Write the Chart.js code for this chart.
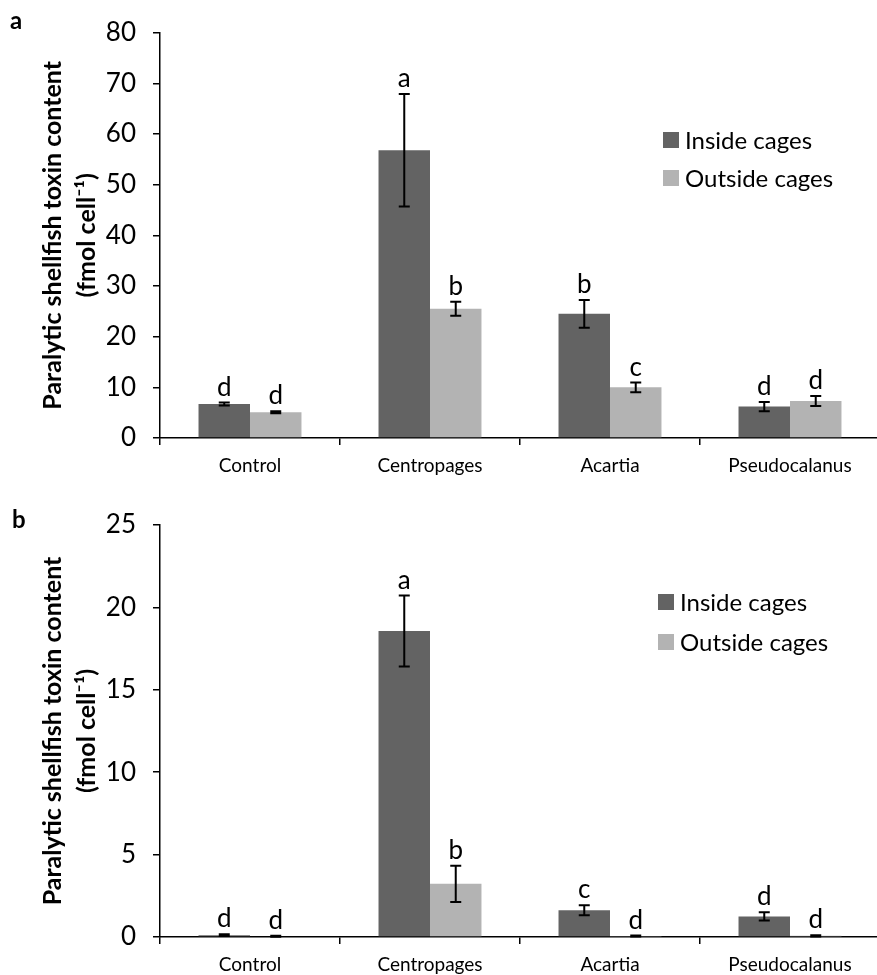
<!DOCTYPE html>
<html>
<head>
<meta charset="utf-8">
<script src="https://cdn.jsdelivr.net/npm/chart.js@4.4.1/dist/chart.umd.min.js"></script>
<style>
    body { margin: 0; background: #fff; overflow: hidden; }
    #wrap { position: relative; width: 877px; height: 975px; overflow: hidden; }
    canvas { position: absolute; left: 0; }
    #chartA { top: 0; }
    #chartB { top: 480px; }
</style>
</head>
<body>
<div id="wrap">
    <canvas id="chartA" width="900" height="480"></canvas>
    <canvas id="chartB" width="900" height="495"></canvas>
</div>
<script>
// Categorias del eje X
const categorias = ["Control", "Centropages", "Acartia", "Pseudocalanus"];
const nombresSeries = ["Inside cages", "Outside cages"];

// Panel a: medias, errores y letras de significancia
const dentroA = [6.7, 56.8, 24.5, 6.2];
const dentroAErr = [0.3, 11.1, 2.75, 0.9];
const fueraA = [5.1, 25.5, 10.0, 7.3];
const fueraAErr = [0.2, 1.4, 0.95, 1.0];
const letrasDentroA = ["d", "a", "b", "d"];
const letrasFueraA = ["d", "b", "c", "d"];
const ticksA = [0, 10, 20, 30, 40, 50, 60, 70, 80];

// Panel b
const dentroB = [0.11, 18.57, 1.62, 1.25];
const dentroBErr = [0.05, 2.15, 0.3, 0.25];
const fueraB = [0.05, 3.23, 0.06, 0.07];
const fueraBErr = [0.03, 1.1, 0.03, 0.04];
const letrasDentroB = ["d", "a", "c", "d"];
const letrasFueraB = ["d", "b", "d", "d"];
const ticksB = [0, 5, 10, 15, 20, 25];

const colorDentro = "#636363";
const colorFuera = "#b3b3b3";
const fuente = "Lato";

Chart.defaults.font.family = fuente;
Chart.defaults.color = "#000";

// Plugin: barras de error y letras encima de cada barra
const errorBarsPlugin = {
    id: "errorBars",
    afterDatasetsDraw(chart) {
        const ctx = chart.ctx;
        const yScale = chart.scales.y;
        ctx.save();
        ctx.strokeStyle = "#000";
        ctx.lineWidth = 2;
        ctx.fillStyle = "#000";
        ctx.font = "26px " + fuente;
        ctx.textAlign = "center";
        ctx.textBaseline = "alphabetic";
        chart.data.datasets.forEach((ds, i) => {
            const meta = chart.getDatasetMeta(i);
            meta.data.forEach((bar, j) => {
                const v = ds.data[j];
                const e = ds.errores[j];
                const yTop = yScale.getPixelForValue(v + e);
                const yBot = yScale.getPixelForValue(Math.max(v - e, 0));
                ctx.beginPath();
                ctx.moveTo(bar.x, yTop);
                ctx.lineTo(bar.x, yBot);
                ctx.moveTo(bar.x - 5.5, yTop);
                ctx.lineTo(bar.x + 5.5, yTop);
                ctx.moveTo(bar.x - 5.5, yBot);
                ctx.lineTo(bar.x + 5.5, yBot);
                ctx.stroke();
                ctx.fillText(ds.letras[j], bar.x, yTop - 7);
            });
        });
        ctx.restore();
    },
};

// Plugin: leyenda dentro del area y letra del panel
const leyendaPlugin = {
    id: "leyendaPanel",
    afterDraw(chart, args, opts) {
        const ctx = chart.ctx;
        ctx.save();
        ctx.font = "bold 24px " + fuente;
        ctx.fillStyle = "#000";
        ctx.textAlign = "left";
        ctx.textBaseline = "alphabetic";
        ctx.fillText(opts.letra, opts.letraX, opts.letraY);

        ctx.font = "24px " + fuente;
        ctx.textBaseline = "middle";
        chart.data.datasets.forEach((ds, i) => {
            const y = opts.y + i * opts.gap;
            ctx.fillStyle = ds.backgroundColor;
            ctx.fillRect(opts.x, y - 8, 16, 16);
            ctx.fillStyle = "#000";
            ctx.fillText(ds.label, opts.x + 22, y + 1);
        });
        ctx.restore();
    },
};

function crearGrafico(id, dentro, dentroErr, letrasDentro, fuera, fueraErr, letrasFuera, ticks, cfg) {
    return new Chart(document.getElementById(id), {
        type: "bar",
        data: {
            labels: categorias,
            datasets: [
                {
                    label: nombresSeries[0],
                    data: dentro,
                    errores: dentroErr,
                    letras: letrasDentro,
                    backgroundColor: colorDentro,
                    categoryPercentage: 0.572,
                    barPercentage: 1.0,
                },
                {
                    label: nombresSeries[1],
                    data: fuera,
                    errores: fueraErr,
                    letras: letrasFuera,
                    backgroundColor: colorFuera,
                    categoryPercentage: 0.572,
                    barPercentage: 1.0,
                },
            ],
        },
        options: {
            responsive: false,
            animation: false,
            devicePixelRatio: 1,
            layout: {
                padding: { top: cfg.top, right: 20, left: 0, bottom: 0 },
            },
            scales: {
                x: {
                    grid: {
                        offset: true,
                        drawOnChartArea: false,
                        color: "#000",
                        lineWidth: 1.5,
                        tickLength: 7,
                    },
                    border: { color: "#000", width: 1.5 },
                    ticks: { font: { size: 19 }, color: "#000", padding: 9 },
                    afterFit: (scale) => { scale.height = cfg.alturaX; },
                },
                y: {
                    min: ticks[0],
                    max: ticks[ticks.length - 1],
                    afterBuildTicks: (scale) => {
                        scale.ticks = ticks.map((v) => ({ value: v }));
                    },
                    grid: {
                        drawOnChartArea: false,
                        color: "#000",
                        lineWidth: 1.5,
                        tickLength: 7,
                    },
                    border: { color: "#000", width: 1.5 },
                    ticks: { font: { size: 26 }, color: "#000", padding: 17 },
                    title: {
                        display: true,
                        text: ["Paralytic shellfish toxin content", "(fmol cell\u207B\u00B9)"],
                        font: { size: 25, weight: "bold", lineHeight: "34px" },
                        color: "#000",
                        padding: { top: 36, bottom: 0 },
                    },
                    afterFit: (scale) => { scale.width = 160; },
                },
            },
            plugins: {
                legend: { display: false },
                tooltip: { enabled: false },
                leyendaPanel: cfg.leyenda,
            },
        },
        plugins: [errorBarsPlugin, leyendaPlugin],
    });
}

crearGrafico("chartA", dentroA, dentroAErr, letrasDentroA, fueraA, fueraAErr, letrasFueraA, ticksA, {
    top: 26,
    alturaX: 42,
    leyenda: { x: 663, y: 140, gap: 38, letra: "a", letraX: 10, letraY: 29 },
});

crearGrafico("chartB", dentroB, dentroBErr, letrasDentroB, fueraB, fueraBErr, letrasFueraB, ticksB, {
    top: 45,
    alturaX: 38,
    leyenda: { x: 658, y: 122, gap: 40, letra: "b", letraX: 12, letraY: 48 },
});
</script>
</body>
</html>
